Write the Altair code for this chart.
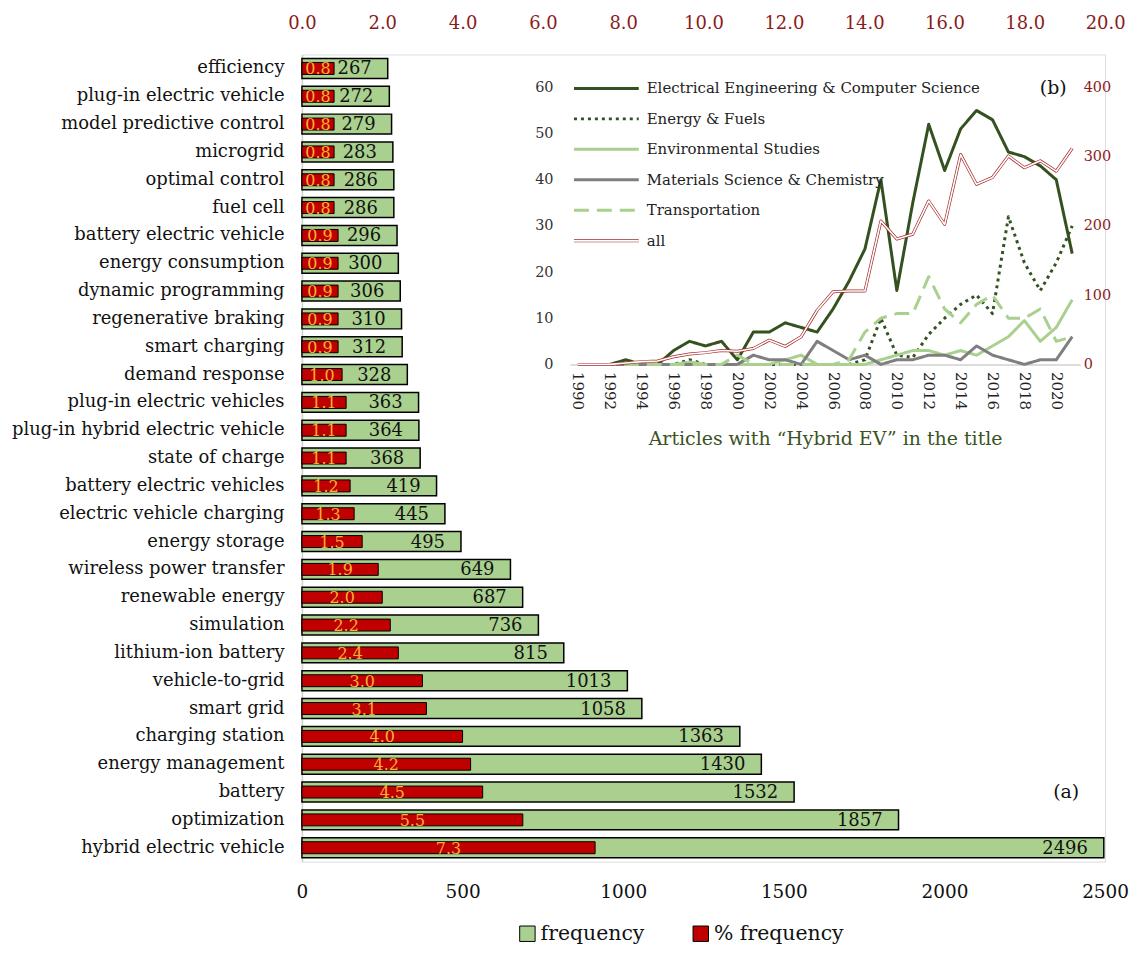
import altair as alt
import pandas as pd

FONT = "DejaVu Serif"
W, H = 806, 810

# ---------------- data: keyword bars ----------------
terms = ["efficiency", "plug-in electric vehicle", "model predictive control", "microgrid",
         "optimal control", "fuel cell", "battery electric vehicle", "energy consumption",
         "dynamic programming", "regenerative braking", "smart charging", "demand response",
         "plug-in electric vehicles", "plug-in hybrid electric vehicle", "state of charge",
         "battery electric vehicles", "electric vehicle charging", "energy storage",
         "wireless power transfer", "renewable energy", "simulation", "lithium-ion battery",
         "vehicle-to-grid", "smart grid", "charging station", "energy management", "battery",
         "optimization", "hybrid electric vehicle"]
freq = [267, 272, 279, 283, 286, 286, 296, 300, 306, 310, 312, 328, 363, 364, 368, 419, 445,
        495, 649, 687, 736, 815, 1013, 1058, 1363, 1430, 1532, 1857, 2496]
pct = [0.8, 0.8, 0.8, 0.8, 0.8, 0.8, 0.9, 0.9, 0.9, 0.9, 0.9, 1.0, 1.1, 1.1, 1.1, 1.2, 1.3,
       1.5, 1.9, 2.0, 2.2, 2.4, 3.0, 3.1, 4.0, 4.2, 4.5, 5.5, 7.3]
freq_ticks = [0, 500, 1000, 1500, 2000, 2500]
pct_ticks = [0, 2, 4, 6, 8, 10, 12, 14, 16, 18, 20]
bar_kinds = ["frequency", "% frequency"]

# ---------------- data: inset lines ----------------
years = list(range(1990, 2022))
eecs = [0, 0, 0, 1, 0, 0, 3, 5, 4, 5, 1, 7, 7, 9, 8, 7, 12, 18, 25, 40, 16, 35, 52, 42, 51,
        55, 53, 46, 45, 43, 40, 24]
energy = [0, 0, 0, 0, 0, 0, 0, 1, 0, 0, 0, 0, 0, 0, 0, 0, 0, 0, 1, 10, 2, 1.5, 6.5, 10, 13,
          15, 11, 32, 22, 16, 22, 30]
environ = [0, 0, 0, 0, 0, 0, 0, 0.5, 0, 0, 0, 0, 0, 1, 2, 0, 0, 0, 0, 1, 2, 3, 3, 2, 3, 2,
           4, 6, 9.5, 5, 8, 14]
materials = [0, 0, 0, 0, 0, 0, 0, 0, 0, 0, 0, 2, 1, 1, 0, 5, 3, 1, 2, 0, 1, 1, 2, 2, 1, 4,
             2, 1, 0, 1, 1, 6]
transport = [0, 0, 0, 0, 0, 0, 0, 0, 0, 0, 2, 0, 0, 0, 0, 0, 0, 1, 7, 10, 11, 11, 19, 12, 9,
             13, 15, 10, 10, 12, 5, 6]
all_articles = [0, 0, 0, 2, 4, 5, 11, 15, 17, 20, 19, 23, 35, 26, 40, 78, 105, 106, 106, 207,
                181, 188, 236, 202, 303, 260, 270, 301, 284, 294, 279, 312]
year_ticks = list(range(1990, 2021, 2))
left_ticks = [0, 10, 20, 30, 40, 50, 60]
right_ticks = [0, 100, 200, 300, 400]

series_names = ["Electrical Engineering & Computer Science", "Energy & Fuels",
                "Environmental Studies", "Materials Science & Chemistry", "Transportation", "all"]
series_colors = ["#34511f", "#34511f", "#a9d08e", "#7f7f7f", "#a9d08e", "#a52a2a"]
series_dash = [[1, 0], [3, 4], [1, 0], [1, 0], [15, 8], [1, 0]]
series_width = [3, 3, 3.5, 3, 3.5, 5]

bar_df = pd.DataFrame({"term": terms, "freq": freq, "pct": pct})
subj_df = pd.DataFrame({
    "year": years * 5,
    "series": [n for n in series_names[:5] for _ in years],
    "value": eecs + energy + environ + materials + transport,
})
all_df = pd.DataFrame({"year": years, "series": ["all"] * len(years), "value": all_articles})
leg_df = pd.DataFrame({"series": series_names})

# inset placement inside the plot area (pixels)
INSET_X = [269, 781]
INSET_Y = [311, 33]

stroke = alt.Stroke("series:N", scale=alt.Scale(domain=series_names, range=series_colors), legend=None)
dash = alt.StrokeDash("series:N", scale=alt.Scale(domain=series_names, range=series_dash), legend=None)
swidth = alt.StrokeWidth("series:N", scale=alt.Scale(domain=series_names, range=series_width), legend=None)

fill_scale = alt.Scale(domain=bar_kinds, range=["#a9d08e", "#c00000"])
fill_legend = alt.Legend(title=None, orient="none", legendX=216, legendY=872, direction="horizontal",
                         symbolType="square", symbolSize=240, symbolStrokeColor="black",
                         symbolStrokeWidth=1, labelFont=FONT, labelFontSize=20.5, labelColor="#111",
                         columnPadding=46, labelOffset=3)

y_term = alt.Y("term:N", sort=terms, scale=alt.Scale(paddingInner=0, paddingOuter=0),
               axis=alt.Axis(orient="left", title=None, ticks=False, domain=True, domainColor="#d0d0d0",
                             domainWidth=1.5, labelFont=FONT, labelFontSize=18, labelColor="#111",
                             labelPadding=18, labelLimit=500, grid=False))
y_term2 = alt.Y("term:N", sort=terms, scale=alt.Scale(paddingInner=0, paddingOuter=0), axis=None)

base = alt.Chart(bar_df)

green = base.transform_calculate(kind='"frequency"').mark_bar(
    size=20, stroke="black", strokeWidth=1.5).encode(
    x=alt.X("freq:Q", scale=alt.Scale(domain=[0, 2500], nice=False),
            axis=alt.Axis(orient="bottom", values=freq_ticks, format="d", title=None, ticks=False,
                          domain=False, grid=False, labelFont=FONT, labelFontSize=18.5,
                          labelColor="#111", labelPadding=21, labelFlush=False)),
    y=y_term,
    fill=alt.Fill("kind:N", scale=fill_scale, legend=fill_legend),
)
freq_text = base.mark_text(align="right", baseline="middle", dx=-16, dy=1, font=FONT, fontSize=18,
                           color="#111").encode(x="freq:Q", y=y_term, text="freq:Q")
bars_group = alt.layer(green, freq_text)

red = base.transform_calculate(kind='"% frequency"').mark_bar(
    size=12, stroke="black", strokeWidth=1).encode(
    x=alt.X("pct:Q", scale=alt.Scale(domain=[0, 20], nice=False),
            axis=alt.Axis(orient="top", values=pct_ticks, format=".1f", title=None, ticks=False,
                          domain=False, grid=False, labelFont=FONT, labelFontSize=18,
                          labelColor="#8b1c1c", labelPadding=22, labelFlush=False)),
    y=y_term2,
    fill=alt.Fill("kind:N", scale=fill_scale, legend=fill_legend),
)
pct_text = base.transform_calculate(mid="datum.pct / 2").mark_text(
    align="center", baseline="middle", dy=1, font=FONT, fontSize=16, color="#f9b233").encode(
    x=alt.X("mid:Q", title=None), y=y_term2, text=alt.Text("pct:Q", format=".1f"))
pct_group = alt.layer(red, pct_text)

# ---------------- inset ----------------
x_year = alt.X("year:Q", scale=alt.Scale(domain=[1989.5, 2021.5], range=INSET_X, nice=False, zero=False),
               axis=alt.Axis(orient="bottom", offset=INSET_Y[0] - H, values=year_ticks, format="d",
                             labelAngle=90, labelAlign="left", labelBaseline="middle", labelPadding=7,
                             ticks=False, grid=False, domain=True, domainColor="#d0d0d0",
                             domainWidth=1.5, labelFont=FONT, labelFontSize=15, labelColor="#222",
                             title="Articles with \u201cHybrid EV\u201d in the title", titleFont=FONT,
                             titleFontSize=19, titleFontWeight="normal", titleColor="#3b5323",
                             titlePadding=20, labelFlush=False))
x_year2 = alt.X("year:Q", scale=alt.Scale(domain=[1989.5, 2021.5], range=INSET_X, nice=False, zero=False),
                axis=None)
y_subj = alt.Y("value:Q", scale=alt.Scale(domain=[0, 60], range=INSET_Y, nice=False),
               axis=alt.Axis(orient="left", offset=-258, values=left_ticks, ticks=False, grid=False,
                             domain=False, labelFont=FONT, labelFontSize=14.5, labelColor="#333",
                             labelPadding=6, title=None))
y_all = alt.Y("value:Q", scale=alt.Scale(domain=[0, 400], range=INSET_Y, nice=False),
              axis=alt.Axis(orient="right", offset=-(W - 779), values=right_ticks, ticks=False,
                            grid=False, domain=False, labelFont=FONT, labelFontSize=14.5,
                            labelColor="#8b1c1c", labelPadding=5, title=None))

subj_lines = alt.Chart(subj_df).mark_line(strokeJoin="round").encode(
    x=x_year, y=y_subj, stroke=stroke, strokeDash=dash, strokeWidth=swidth, order="year:Q")
inset_group = alt.layer(subj_lines)

all_outer = alt.Chart(all_df).mark_line(strokeJoin="round").encode(
    x=x_year2, y=y_all, stroke=stroke, strokeWidth=swidth, order="year:Q")
all_inner = alt.Chart(all_df).mark_line(color="white", strokeWidth=1.6, strokeJoin="round").encode(
    x=x_year2, y=y_all, order="year:Q")
all_group = alt.layer(all_outer, all_inner)

y_leg = alt.Y("series:N", scale=alt.Scale(domain=series_names, range=[34, 187], type="point", padding=0),
              axis=None)
leg_rules = alt.Chart(leg_df).mark_rule().encode(
    x=alt.value(273), x2=alt.value(338), y=y_leg, stroke=stroke, strokeDash=dash, strokeWidth=swidth)
leg_inner = alt.Chart(leg_df).transform_filter("datum.series == 'all'").mark_rule(
    color="white", strokeWidth=1.6).encode(x=alt.value(273), x2=alt.value(338), y=y_leg)
leg_text = alt.Chart(leg_df).mark_text(align="left", baseline="middle", font=FONT, fontSize=15,
                                       color="#222").encode(x=alt.value(346), y=y_leg, text="series:N")
legend_group = alt.layer(leg_rules, leg_inner, leg_text)

ann_df = pd.DataFrame({"label": ["(b)", "(a)"]})
ann_b = alt.Chart(ann_df).transform_filter("datum.label == '(b)'").mark_text(
    font=FONT, fontSize=19, color="#111", align="center", baseline="middle").encode(
    x=alt.value(754), y=alt.value(34), text="label:N")
ann_a = alt.Chart(ann_df).transform_filter("datum.label == '(a)'").mark_text(
    font=FONT, fontSize=19, color="#111", align="center", baseline="middle").encode(
    x=alt.value(767), y=alt.value(740), text="label:N")

chart = alt.layer(bars_group, pct_group, inset_group, all_group, legend_group, ann_b, ann_a).resolve_scale(
    x="independent", y="independent"
).properties(
    width=W, height=H, padding={"left": 3, "top": 5, "right": 0, "bottom": 0}
).configure_view(stroke=None).configure(background="white")

chart.save("out.html", embed_options={"renderer": "svg", "actions": False})
